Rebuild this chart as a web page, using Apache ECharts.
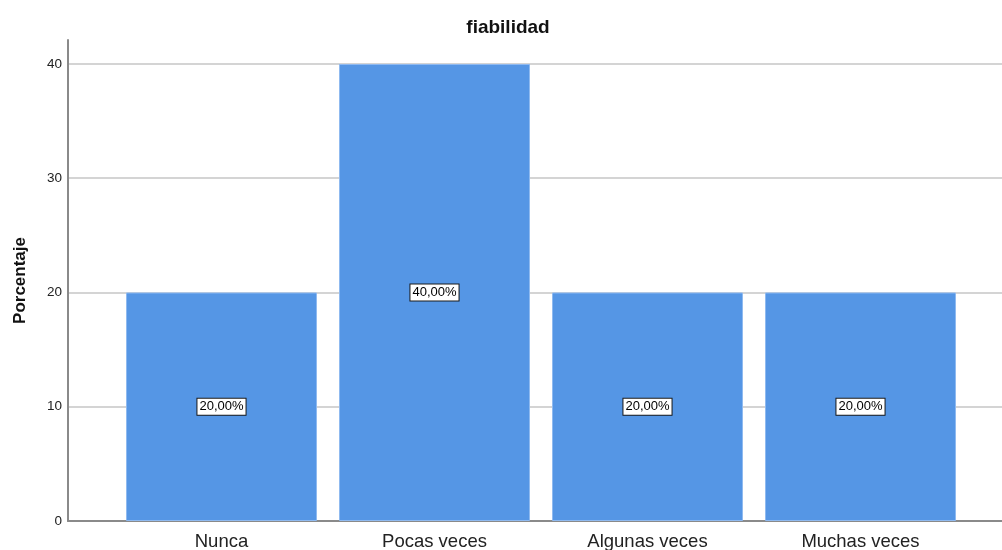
<!DOCTYPE html>
<html>
<head>
<meta charset="utf-8">
<script src="https://cdn.jsdelivr.net/npm/echarts@6/dist/echarts.min.js"></script>
<style>
  html, body { margin: 0; padding: 0; background: #fff; }
  #chart { width: 1002px; height: 550px; }
</style>
</head>
<body>
<div id="chart"></div>
<script>
// Frequency of responses for "fiabilidad", as percentages
const categories = ['Nunca', 'Pocas veces', 'Algunas veces', 'Muchas veces'];
const percentages = [20, 40, 20, 20];
const yTicks = { min: 0, max: 42.1, interval: 10 };

const FONT = 'Arial, "Liberation Sans", sans-serif';
const fmtPct = v => v.toFixed(2).replace('.', ',') + '%';

const chart = echarts.init(document.getElementById('chart'), null, { renderer: 'canvas' });

chart.setOption({
  animation: false,
  backgroundColor: '#ffffff',
  title: {
    text: 'fiabilidad',
    left: 503,
    top: 13,
    textAlign: 'center',
    textStyle: { fontFamily: FONT, fontSize: 19, fontWeight: 'bold', color: '#111' }
  },
  grid: [
    // frame grid: y axis, gridlines and baseline across the full width
    { left: 68, right: 0, top: 40, bottom: 29, containLabel: false, outerBoundsMode: 'none' },
    // bar grid: category bands
    { left: 115, right: 35, top: 40, bottom: 29, containLabel: false, outerBoundsMode: 'none' }
  ],
  xAxis: [
    {
      gridIndex: 0, type: 'value', min: 0, max: 1,
      axisLine: { show: true, lineStyle: { color: '#8a8a8a', width: 2 } },
      axisTick: { show: false }, axisLabel: { show: false }, splitLine: { show: false }
    },
    {
      gridIndex: 1, type: 'category', data: categories,
      axisLine: { show: false }, axisTick: { show: false },
      axisLabel: { fontFamily: FONT, fontSize: 18.5, color: '#222', margin: 11 }
    }
  ],
  yAxis: [
    {
      gridIndex: 0, type: 'value', min: yTicks.min, max: yTicks.max, interval: yTicks.interval,
      name: 'Porcentaje', nameLocation: 'middle', nameGap: 39,
      nameTextStyle: { fontFamily: FONT, fontSize: 17, fontWeight: 'bold', color: '#111' },
      axisLine: { show: true, lineStyle: { color: '#8a8a8a', width: 2 } },
      axisTick: { show: false },
      axisLabel: {
        fontFamily: FONT, fontSize: 13.5, color: '#222', margin: 6,
        showMaxLabel: false
      },
      splitLine: { show: true, showMaxLine: false, lineStyle: { color: '#d4d4d4', width: 2 } }
    },
    {
      gridIndex: 1, type: 'value', min: yTicks.min, max: yTicks.max, interval: yTicks.interval,
      show: false, splitLine: { show: false }
    }
  ],
  series: [{
    type: 'bar',
    xAxisIndex: 1,
    yAxisIndex: 1,
    data: percentages,
    barWidth: 191,
    itemStyle: { color: '#5596e5', borderColor: '#8fbaf0', borderWidth: 1 },
    label: {
      show: true,
      position: 'inside',
      formatter: p => fmtPct(p.value),
      fontFamily: FONT, fontSize: 13, color: '#000',
      backgroundColor: '#ffffff', borderColor: '#1a1a1a', borderWidth: 1,
      padding: [2, 2, 1, 2]
    }
  }]
});
</script>
</body>
</html>
